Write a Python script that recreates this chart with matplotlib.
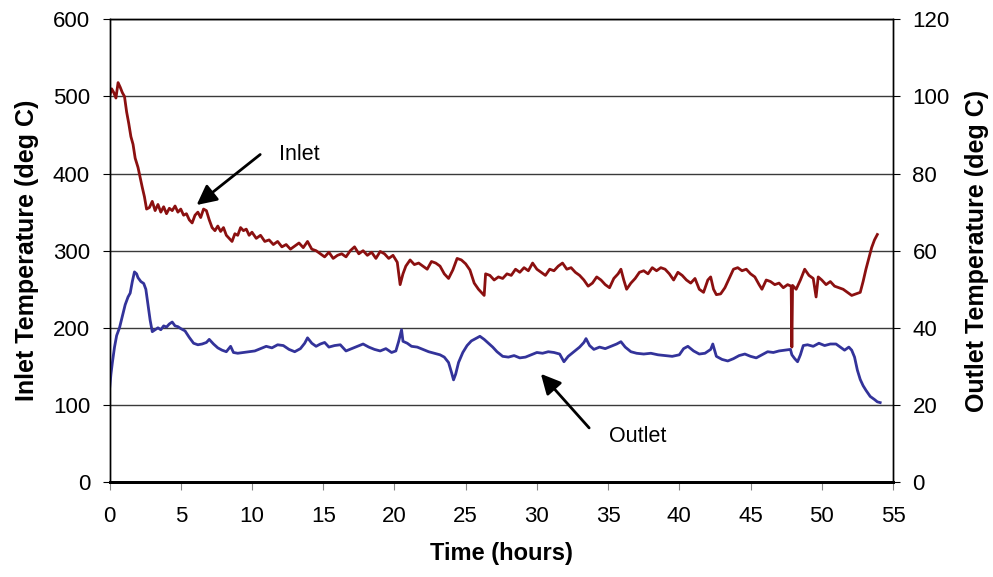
import matplotlib
matplotlib.use('Agg')
import matplotlib.pyplot as plt
import numpy as np

# inlet temperature (left axis, deg C)
inlet_t = [0.0, 0.15, 0.3, 0.45, 0.6, 0.75, 0.9, 1.05, 1.2, 1.35, 1.5, 1.65, 1.8, 2.0, 2.15, 2.3,
           2.45, 2.6, 2.8, 3.0, 3.2, 3.4, 3.6, 3.8, 4.0, 4.2, 4.4, 4.6, 4.8, 5.0, 5.2, 5.4, 5.6,
           5.8, 6.0, 6.2, 6.4, 6.6, 6.8, 7.0, 7.2, 7.4, 7.6, 7.8, 8.0, 8.2, 8.4, 8.6, 8.8, 9.0,
           9.2, 9.4, 9.6, 9.8, 10.0, 10.3, 10.6, 10.9, 11.2, 11.5, 11.8, 12.1, 12.4, 12.7, 13.0,
           13.3, 13.6, 13.9, 14.2, 14.5, 14.8, 15.1, 15.4, 15.7, 16.0, 16.3, 16.6, 16.9, 17.2,
           17.5, 17.8, 18.1, 18.4, 18.7, 19.0, 19.3, 19.6, 19.9, 20.2, 20.4, 20.6, 20.8, 21.1,
           21.4, 21.7, 22.0, 22.3, 22.6, 22.9, 23.2, 23.5, 23.8, 24.1, 24.4, 24.7, 25.0, 25.3,
           25.6, 25.9, 26.1, 26.3, 26.4, 26.7, 27.0, 27.3, 27.6, 27.9, 28.2, 28.5, 28.8, 29.1,
           29.4, 29.7, 30.0, 30.3, 30.6, 30.9, 31.2, 31.5, 31.8, 32.1, 32.4, 32.7, 33.0, 33.3,
           33.6, 33.9, 34.2, 34.5, 34.8, 35.1, 35.4, 35.7, 35.9, 36.1, 36.3, 36.6, 36.9, 37.2,
           37.5, 37.8, 38.1, 38.4, 38.7, 39.0, 39.3, 39.6, 39.9, 40.2, 40.5, 40.8, 41.1, 41.4,
           41.7, 42.0, 42.2, 42.4, 42.6, 42.9, 43.2, 43.5, 43.8, 44.1, 44.4, 44.7, 45.0, 45.3,
           45.6, 45.8, 46.1, 46.4, 46.7, 47.0, 47.3, 47.6, 47.85, 47.9, 47.95, 48.2, 48.5, 48.8,
           49.1, 49.4, 49.6, 49.75, 50.0, 50.3, 50.6, 50.9, 51.2, 51.5, 51.8, 52.1, 52.4, 52.7,
           52.9, 53.1, 53.3, 53.5, 53.7, 53.9]
inlet_temp = [500, 510, 505, 498, 518, 512, 505, 500, 480, 465, 448, 438, 420, 408, 395, 382,
              370, 354, 356, 364, 352, 360, 350, 357, 348, 355, 352, 358, 350, 354, 346, 348, 340,
              336, 346, 350, 343, 354, 352, 340, 330, 326, 332, 325, 330, 320, 316, 312, 322, 320,
              330, 326, 328, 320, 324, 316, 320, 312, 314, 308, 312, 305, 308, 302, 306,
              310, 304, 312, 302, 300, 296, 292, 298, 290, 294, 296, 292, 300, 305,
              296, 300, 294, 298, 290, 299, 296, 290, 294, 285, 256, 270, 280, 288,
              282, 284, 280, 276, 286, 284, 280, 270, 264, 275, 290, 288, 283, 275,
              258, 250, 246, 242, 270, 268, 262, 266, 264, 270, 268, 276, 272, 278,
              274, 284, 276, 272, 268, 276, 274, 280, 284, 276, 278, 272, 268, 262,
              254, 258, 266, 262, 256, 252, 264, 270, 276, 262, 250, 258, 264, 272,
              274, 270, 278, 274, 278, 276, 270, 262, 272, 268, 262, 258, 264, 250,
              246, 262, 266, 250, 243, 244, 252, 264, 276, 278, 274, 276, 270, 266,
              256, 250, 262, 260, 256, 258, 252, 256, 254, 175, 255, 250, 262, 276,
              268, 264, 240, 266, 262, 256, 260, 254, 252, 250, 246, 242, 244, 246,
              260, 276, 290, 304, 314, 321]

# outlet temperature (right axis, deg C)
outlet_t = [0.0, 0.1, 0.2, 0.35, 0.5, 0.7, 0.9, 1.1, 1.3, 1.45, 1.6, 1.75, 1.9, 2.0, 2.2, 2.4,
            2.55, 2.7, 2.85, 3.0, 3.2, 3.4, 3.6, 3.8, 4.0, 4.2, 4.4, 4.6, 4.8, 5.0, 5.3, 5.6,
            5.9, 6.2, 6.5, 6.8, 7.0, 7.3, 7.6, 7.9, 8.2, 8.5, 8.7, 9.0, 9.4, 9.8, 10.2, 10.6,
            11.0, 11.4, 11.8, 12.2, 12.6, 13.0, 13.4, 13.7, 13.9, 14.2, 14.5, 14.8, 15.1, 15.4,
            15.8, 16.2, 16.6, 17.0, 17.4, 17.8, 18.2, 18.6, 19.0, 19.4, 19.8, 20.1, 20.3, 20.5,
            20.6, 20.9, 21.2, 21.6, 22.0, 22.4, 22.8, 23.2, 23.5, 23.8, 24.0, 24.15, 24.3, 24.5,
            24.8, 25.1, 25.4, 25.7, 26.0, 26.3, 26.6, 26.9, 27.2, 27.6, 28.0, 28.4, 28.8, 29.2,
            29.6, 30.0, 30.4, 30.8, 31.2, 31.6, 31.9, 32.2, 32.6, 33.0, 33.3, 33.45, 33.7, 34.0,
            34.4, 34.8, 35.2, 35.6, 35.9, 36.2, 36.6, 37.0, 37.5, 38.0, 38.5, 39.0, 39.5, 40.0,
            40.3, 40.6, 41.0, 41.4, 41.8, 42.2, 42.35, 42.6, 43.0, 43.4, 43.8, 44.2, 44.6, 45.0,
            45.4, 45.8, 46.2, 46.6, 47.0, 47.4, 47.8, 47.9, 48.1, 48.3, 48.5, 48.7, 49.0, 49.4,
            49.8, 50.2, 50.6, 51.0, 51.3, 51.6, 51.9, 52.1, 52.3, 52.5, 52.7, 52.9, 53.1, 53.4,
            53.7, 53.9, 54.1]
outlet_temp = [24, 28, 31, 35, 38, 40, 43, 46, 48, 49, 52, 54.5, 54, 53, 52, 51.5,
               50, 46, 42, 39, 39.5, 40, 39.5, 40.5, 40.2, 41, 41.5, 40.5, 40.3, 39.8, 39.2, 37.5,
               36, 35.6, 35.8, 36.2, 37, 35.8, 34.8, 34.2, 33.8, 35.2, 33.6, 33.4, 33.6, 33.8, 34, 34.6,
               35.2, 34.8, 35.6, 35.4, 34.4, 33.8, 34.6, 36, 37.4, 36, 35.2, 35.8, 36.2, 35,
               35.4, 35.6, 34, 34.6, 35.2, 35.8, 35, 34.4, 34, 34.6, 33.6, 34, 36.5, 39.5,
               36.5, 36, 35.2, 35, 34.4, 33.8, 33.4, 33, 32.4, 31, 28.5, 26.5, 28, 31,
               33.6, 35.4, 36.6, 37.2, 37.8, 37, 36, 35, 33.8, 32.6, 32.4, 32.8, 32.2, 32.4,
               33, 33.6, 33.4, 33.8, 33.6, 33.2, 31.2, 32.6, 33.8, 35, 36.2, 37.2, 35.4, 34.4,
               35, 34.6, 35.2, 35.8, 36.4, 35, 33.8, 33.4, 33.2, 33.4, 33, 32.8, 32.6, 33,
               34.6, 35.2, 34, 33.2, 33.4, 34.4, 35.8, 32.6, 31.8, 31.4, 32, 32.8, 33.2, 32.6,
               32.2, 33, 33.8, 33.6, 34, 34.2, 34.4, 33, 32, 31.2, 33, 35.4, 35.6, 35.2,
               36, 35.4, 35.8, 35.8, 35, 34.2, 35, 34.2, 32.4, 29, 26.6, 25, 23.8, 22.2,
               21.4, 20.8, 20.6]

x_ticks = np.arange(0, 56, 5)
left_ticks = np.arange(0, 601, 100)
right_ticks = np.arange(0, 121, 20)

plt.rcParams['font.family'] = ['Liberation Sans', 'DejaVu Sans']

fig = plt.figure(figsize=(9.93, 5.77), dpi=100)
ax = fig.add_axes([0.1103, 0.1646, 0.789, 0.8018])
ax2 = ax.twinx()

ax.set_xlim(0, 55)
ax.set_ylim(0, 600)
ax2.set_ylim(0, 120)
ax.set_xticks(x_ticks)
ax.set_yticks(left_ticks)
ax2.set_yticks(right_ticks)

ax.yaxis.grid(True, color='#3a3a3a', linewidth=1.0)
ax.set_axisbelow(True)

ax.plot(inlet_t, inlet_temp, color='#8b1010', linewidth=2.0)
ax2.plot(outlet_t, outlet_temp, color='#33339a', linewidth=2.0)

for s in ['top', 'left', 'right']:
    ax.spines[s].set_linewidth(1.0)
    ax2.spines[s].set_linewidth(1.0)
ax.spines['bottom'].set_linewidth(2.0)
ax2.spines['bottom'].set_linewidth(2.0)

ax.tick_params(axis='y', direction='out', length=5, width=0.8, pad=9, labelsize=16)
ax.tick_params(axis='x', direction='out', length=6, width=0.8, pad=11, labelsize=16,
               color='#888888')
ax2.tick_params(axis='y', direction='out', length=5, width=0.8, pad=9, labelsize=16)

ax.set_xlabel('Time (hours)', fontsize=17, fontweight='bold', labelpad=11)
ax.set_ylabel('Inlet Temperature (deg C)', fontsize=18, fontweight='bold', labelpad=10)
ax2.set_ylabel('Outlet Temperature (deg C)', fontsize=18, fontweight='bold', labelpad=11)

ax.annotate('', xy=(5.96, 357), xytext=(10.73, 427),
            arrowprops=dict(arrowstyle='-|>', color='black', lw=2, mutation_scale=30))
ax.text(11.92, 425, 'Inlet', fontsize=15.5, va='center', ha='left')
ax.annotate('', xy=(30.15, 143), xytext=(33.8, 67.5),
            arrowprops=dict(arrowstyle='-|>', color='black', lw=2, mutation_scale=30))
ax.text(35.06, 58.4, 'Outlet', fontsize=15.5, va='center', ha='left')

fig.savefig('out.png', dpi=100)
